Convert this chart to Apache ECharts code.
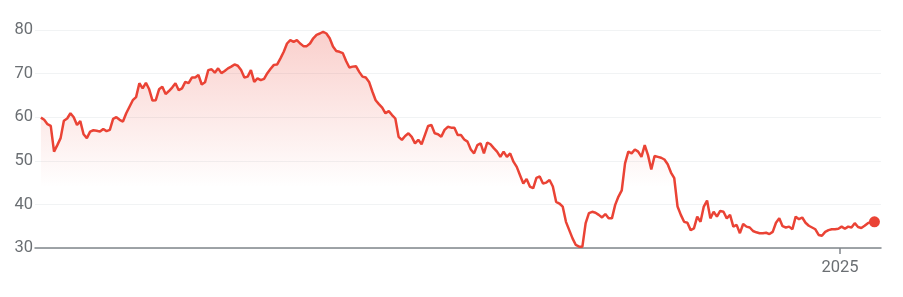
<!DOCTYPE html>
<html>
<head>
<meta charset="utf-8">
<script src="https://cdn.jsdelivr.net/npm/echarts@6/dist/echarts.min.js"></script>
<style>
  html, body { margin: 0; padding: 0; background: #fff; }
  #chart { width: 903px; height: 297px; }
</style>
</head>
<body>
<div id="chart"></div>
<script>
// Daily closing values (trading days)
const values = [
  59.9, 59.4, 58.4, 58.0, 52.1, 53.6, 55.2, 59.2, 59.7, 60.9,
  60.0, 58.2, 59.1, 56.1, 55.2, 56.7, 57.0, 56.9, 56.7, 57.3,
  56.8, 57.1, 59.6, 60.0, 59.4, 59.0, 60.9, 62.4, 63.9, 64.6,
  67.8, 66.6, 67.9, 66.4, 63.8, 63.9, 66.4, 67.0, 65.3, 66.0,
  66.8,
  67.8, 66.2, 66.6, 68.1, 67.8, 69.1, 69.1, 69.7, 67.5, 68.0,
  70.8, 71.0, 70.2, 71.2, 70.1, 70.6, 71.2, 71.6, 72.1, 71.8,
  70.8, 69.1, 69.3, 70.8, 68.1, 68.9, 68.5, 68.8, 70.1, 71.1,
  72.0, 72.1, 73.5, 75.0, 76.9, 77.7, 77.3, 77.7, 76.9, 76.3,
  76.3, 76.9, 78.1, 78.9,
  79.2, 79.6, 79.2, 78.1, 76.2, 75.2, 75.0, 74.7, 72.9, 71.4,
  71.6, 71.7, 70.4, 69.3, 69.1, 68.1, 65.9, 63.9, 63.0, 62.2,
  60.9, 61.4, 60.5, 59.7, 55.5, 54.8, 55.7, 56.3, 55.5, 54.0,
  54.8, 53.8, 55.9, 58.0, 58.2, 56.3, 56.1, 55.5, 57.1, 57.8,
  57.6, 57.6,
  55.9, 55.9, 54.9, 54.4, 52.6, 51.7, 53.6, 54.0, 51.7, 54.2,
  53.8, 52.9, 52.1, 50.9, 52.1, 50.9, 51.7, 49.8, 48.6, 46.7,
  44.8, 45.8, 44.1, 43.7, 46.1, 46.4, 44.8, 45.0, 45.6, 44.1,
  40.6, 40.2, 39.5, 36.0, 34.1, 32.2, 30.7, 30.3, 30.3, 35.7,
  38.0, 38.3, 38.1,
  37.6, 37.0, 37.8, 36.8, 36.8, 39.9, 41.8, 43.2, 49.4, 52.1,
  51.7, 52.6, 52.1, 50.9, 53.6, 51.3, 48.0, 51.1, 50.9, 50.7,
  50.3, 49.2, 47.3, 46.0, 39.5, 37.6, 36.0, 35.8, 34.1, 34.5,
  37.2, 36.0, 39.5, 40.9, 36.8, 38.3, 37.2, 38.5, 38.3, 36.8,
  37.6, 34.9, 35.3, 33.4, 35.5, 34.9, 34.7, 33.9, 33.6, 33.4,
  33.4, 33.5, 33.2, 33.7, 35.8, 36.8, 35.0, 34.7, 34.9, 34.3,
  37.2, 36.6, 37.0, 35.8, 35.1, 34.7, 34.3, 33.0, 32.8, 33.7,
  34.1, 34.3, 34.3, 34.4, 34.9, 34.4, 34.9, 34.7, 35.7, 34.8,
  34.6, 35.1, 35.7, 36.0, 36.0
];

// Trading-day categories (weekdays starting 2024-01-25)
const startDate = '2024-01-25';
const dates = [];
(function () {
  const d = new Date(startDate + 'T00:00:00Z');
  while (dates.length < values.length) {
    const wd = d.getUTCDay();
    if (wd !== 0 && wd !== 6) dates.push(d.toISOString().slice(0, 10));
    d.setUTCDate(d.getUTCDate() + 1);
  }
})();

// Year-boundary tick labels on the x axis
const xTickLabels = ['2025'];
const yTicks = [30, 40, 50, 60, 70, 80];

// position of each year boundary (between last day of previous year and first day of the year)
const xTickPositions = xTickLabels.map(function (y) {
  const i = dates.findIndex(function (s) { return s.slice(0, 4) === y; });
  return i - 0.5;
});

const seriesData = values.map(function (v, i) { return [i, v]; });

const chart = echarts.init(document.getElementById('chart'), null, { renderer: 'canvas' });
chart.setOption({
  animation: false,
  backgroundColor: '#ffffff',
  grid: { left: 35, right: 22, top: 30, bottom: 49, containLabel: false },
  xAxis: {
    type: 'value',
    min: -1.8,
    max: values.length + 1,
    splitLine: { show: false },
    axisLine: { show: true, lineStyle: { color: '#80868b', width: 1.5 } },
    axisTick: {
      show: true,
      customValues: xTickPositions,
      length: 6,
      lineStyle: { color: '#80868b', width: 1.5 }
    },
    axisLabel: {
      show: true,
      customValues: xTickPositions,
      formatter: function (val) {
        const k = xTickPositions.indexOf(val);
        return k >= 0 ? xTickLabels[k] : '';
      },
      color: '#6b6f73',
      fontSize: 16.5,
      fontFamily: 'Roboto, Arial, sans-serif',
      margin: 11
    }
  },
  yAxis: {
    type: 'value',
    min: yTicks[0],
    max: yTicks[yTicks.length - 1],
    interval: 10,
    axisLine: { show: false },
    axisTick: { show: false },
    splitLine: { show: true, lineStyle: { color: '#f1f3f4', width: 1 } },
    axisLabel: {
      color: '#6b6f73',
      fontSize: 16.5,
      fontFamily: 'Roboto, Arial, sans-serif',
      margin: 2
    }
  },
  series: [{
    type: 'line',
    data: seriesData,
    showSymbol: false,
    symbol: 'none',
    lineStyle: { color: '#ea4335', width: 2.5 },
    areaStyle: {
      color: new echarts.graphic.LinearGradient(0, 0, 0, 1, [
        { offset: 0, color: 'rgba(234,67,53,0.36)' },
        { offset: 0.72, color: 'rgba(234,67,53,0)' },
        { offset: 1, color: 'rgba(234,67,53,0)' }
      ])
    },
    markPoint: {
      symbol: 'circle',
      symbolSize: 11,
      itemStyle: { color: '#ea4335' },
      label: { show: false },
      data: [{ coord: seriesData[seriesData.length - 1] }]
    },
    z: 3
  }]
});
</script>
</body>
</html>
